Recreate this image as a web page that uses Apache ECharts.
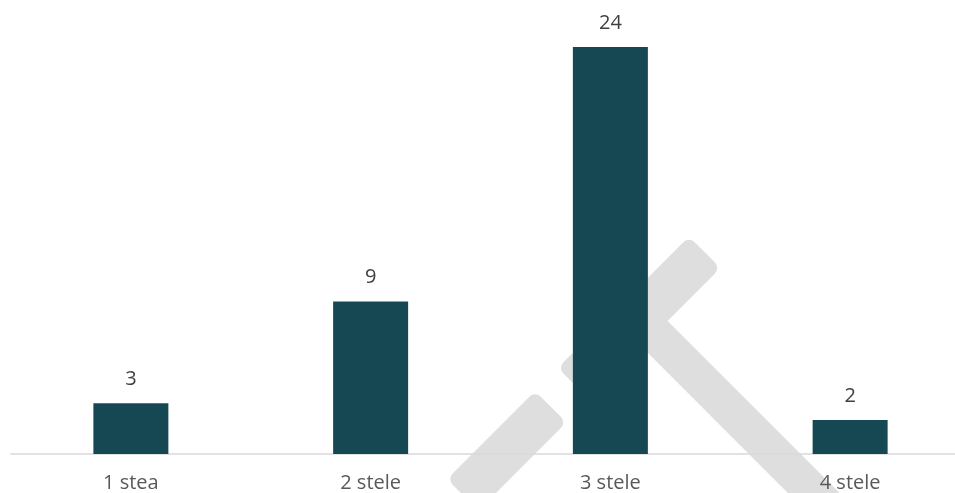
<!DOCTYPE html>
<html>
<head>
<meta charset="utf-8">
<script src="https://cdn.jsdelivr.net/npm/echarts@6/dist/echarts.min.js"></script>
<style>
html,body{margin:0;padding:0;background:#fff;overflow:hidden;width:955px;height:493px;}
#chart{width:970px;height:493px;}
</style>
</head>
<body>
<div id="chart"></div>
<script>
const categories = ['1 stea', '2 stele', '3 stele', '4 stele'];
const values = [3, 9, 24, 2];

const chart = echarts.init(document.getElementById('chart'), null, {renderer: 'canvas'});
const FONT = '"Open Sans", sans-serif';
const WM = '#dedede';

function band(cx, cy, len, thick, rot) {
  return {
    type: 'rect', x: cx, y: cy, rotation: rot, z: -10, silent: true,
    shape: {x: -len / 2, y: -thick / 2, width: len, height: thick, r: 8},
    style: {fill: WM}
  };
}

chart.setOption({
  animation: false,
  backgroundColor: '#ffffff',
  graphic: [
    band(506.75, 450.75, 124.5, 44.5, Math.PI / 4),
    band(639.1, 317.9, 185.6, 44.5, Math.PI / 4),
    band(755.4, 434.6, 325, 36.6, -Math.PI / 4)
  ],
  grid: {left: 11, right: 0, top: 47, bottom: 38, containLabel: false},
  xAxis: {
    type: 'category',
    data: categories,
    axisLine: {show: true, lineStyle: {color: '#d9d9d9', width: 1.5}},
    axisTick: {show: false},
    axisLabel: {color: '#595959', fontSize: 20, fontFamily: FONT, margin: 19}
  },
  yAxis: {
    type: 'value', min: 0, max: 24,
    show: false,
    splitLine: {show: false}
  },
  series: [{
    type: 'bar',
    data: values,
    barWidth: 75,
    itemStyle: {color: '#164854'},
    label: {show: true, position: 'top', distance: 14, color: '#404040', fontSize: 20, fontFamily: FONT}
  }]
});
</script>
</body>
</html>
